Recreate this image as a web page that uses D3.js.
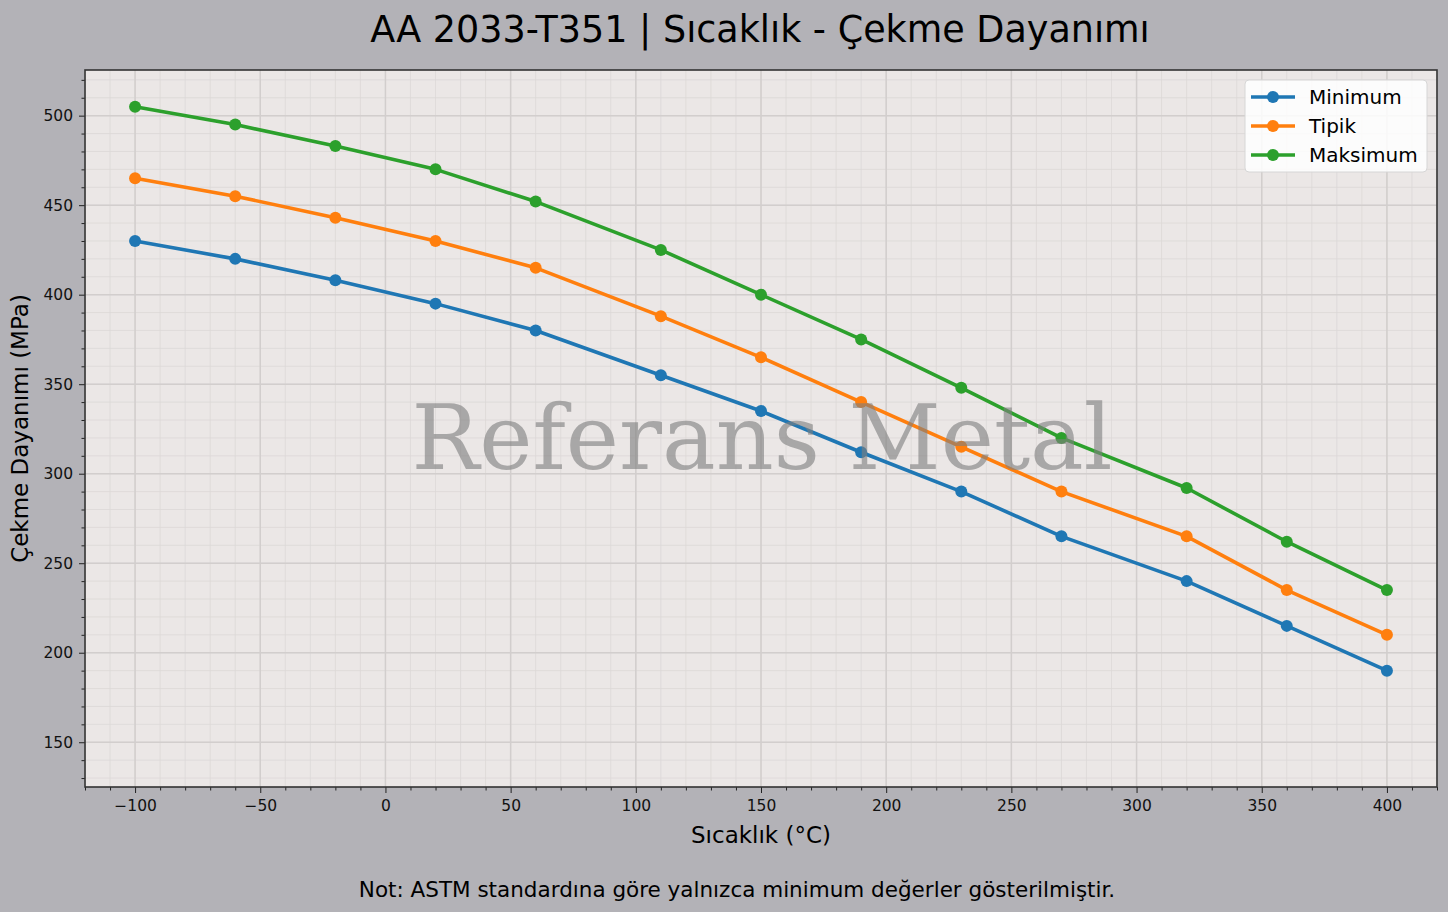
<!DOCTYPE html>
<html>
<head>
<meta charset="utf-8">
<script src="https://cdn.jsdelivr.net/npm/d3@7"></script>
<style>
  body { margin: 0; background: #b3b2b7; }
  svg { display: block; font-family: "DejaVu Sans", sans-serif; }
</style>
</head>
<body>
<svg id="chart" width="1448" height="912"></svg>
<script>
// sıcaklık noktaları (°C)
const temps = [-100, -60, -20, 20, 60, 110, 150, 190, 230, 270, 320, 360, 400]
const minimum = [430, 420, 408, 395, 380, 355, 335, 312, 290, 265, 240, 215, 190]
const tipik = [465, 455, 443, 430, 415, 388, 365, 340, 315, 290, 265, 235, 210]
const maksimum = [505, 495, 483, 470, 452, 425, 400, 375, 348, 320, 292, 262, 235]
const seriesNames = ['Minimum', 'Tipik', 'Maksimum']
const xTicks = [-100, -50, 0, 50, 100, 150, 200, 250, 300, 350, 400]
const yTicks = [150, 200, 250, 300, 350, 400, 450, 500]

const colors = ['#1f77b4', '#ff7f0e', '#2ca02c']
const series = [minimum, tipik, maksimum]

const W = 1448, H = 912
const margin = { left: 85, right: 11, top: 70, bottom: 125 }
const pw = W - margin.left - margin.right
const ph = H - margin.top - margin.bottom

const svg = d3.select('#chart')

svg.append('text')
  .attr('x', 760).attr('y', 42)
  .attr('text-anchor', 'middle')
  .style('font-size', '36.5px')
  .text('AA 2033-T351 | Sıcaklık - Çekme Dayanımı')

const g = svg.append('g').attr('transform', `translate(${margin.left},${margin.top})`)

const x = d3.scaleLinear().domain([-120, 420]).range([0, pw])
const y = d3.scaleLinear().domain([125, 525.5]).range([ph, 0])

g.append('rect').attr('width', pw).attr('height', ph).attr('fill', '#ebe7e6')

// minor grid
const xMinor = d3.range(-120, 421, 10)
const yMinor = d3.range(130, 526, 10)
g.append('g').selectAll('line').data(xMinor).enter().append('line')
  .attr('x1', d => x(d)).attr('x2', d => x(d)).attr('y1', 0).attr('y2', ph)
  .attr('stroke', '#dcd8d7').attr('stroke-width', 0.8)
g.append('g').selectAll('line').data(yMinor).enter().append('line')
  .attr('y1', d => y(d)).attr('y2', d => y(d)).attr('x1', 0).attr('x2', pw)
  .attr('stroke', '#dcd8d7').attr('stroke-width', 0.8)

// major grid
g.append('g').selectAll('line').data(xTicks).enter().append('line')
  .attr('x1', d => x(d)).attr('x2', d => x(d)).attr('y1', 0).attr('y2', ph)
  .attr('stroke', '#d2cecd').attr('stroke-width', 1.5)
g.append('g').selectAll('line').data(yTicks).enter().append('line')
  .attr('y1', d => y(d)).attr('y2', d => y(d)).attr('x1', 0).attr('x2', pw)
  .attr('stroke', '#d2cecd').attr('stroke-width', 1.5)

// axes
const xAxis = g.append('g').attr('transform', `translate(0,${ph})`)
  .call(d3.axisBottom(x).tickValues(xTicks).tickSize(6).tickPadding(5)
    .tickFormat(d => d < 0 ? '\u2212' + Math.abs(d) : d))
const xAxisMinor = g.append('g').attr('transform', `translate(0,${ph})`)
  .call(d3.axisBottom(x).tickValues(xMinor.filter(d => d % 50 !== 0)).tickSize(3.5).tickFormat(''))
const yAxis = g.append('g')
  .call(d3.axisLeft(y).tickValues(yTicks).tickSize(6).tickPadding(6))
const yAxisMinor = g.append('g')
  .call(d3.axisLeft(y).tickValues(yMinor.filter(d => d % 50 !== 0)).tickSize(3.5).tickFormat(''))

;[xAxis, xAxisMinor, yAxis, yAxisMinor].forEach(a => {
  a.select('.domain').remove()
  a.selectAll('line').attr('stroke', '#222').attr('stroke-width', 1)
  a.selectAll('text').style('font-size', '15.5px').attr('fill', '#111')
    .style('font-family', '"DejaVu Sans", sans-serif')
})
xAxis.selectAll('text').attr('dy', '0.85em')

// lines
const line = d3.line().x((d, i) => x(temps[i])).y(d => y(d))
series.forEach((s, k) => {
  g.append('path').datum(s).attr('d', line)
    .attr('fill', 'none').attr('stroke', colors[k]).attr('stroke-width', 3.6)
    .attr('stroke-linejoin', 'round')
  g.append('g').selectAll('circle').data(s).enter().append('circle')
    .attr('cx', (d, i) => x(temps[i])).attr('cy', d => y(d)).attr('r', 6)
    .attr('fill', colors[k])
})

// watermark
g.append('text')
  .attr('x', pw / 2 + 1).attr('y', ph / 2 + 40)
  .attr('text-anchor', 'middle')
  .style('font-family', '"DejaVu Serif", serif')
  .style('font-size', '90px')
  .attr('fill', '#808080').attr('fill-opacity', 0.62)
  .text('Referans Metal')

// frame
g.append('rect').attr('width', pw).attr('height', ph)
  .attr('fill', 'none').attr('stroke', '#333').attr('stroke-width', 1.6)

// legend
const lg = g.append('g').attr('transform', `translate(${pw - 192},10)`)
lg.append('rect').attr('width', 182).attr('height', 92).attr('rx', 4)
  .attr('fill', '#fff').attr('fill-opacity', 0.85).attr('stroke', '#d6d6d6')
seriesNames.forEach((n, k) => {
  const ly = 17 + k * 29
  lg.append('line').attr('x1', 6).attr('x2', 50).attr('y1', ly).attr('y2', ly)
    .attr('stroke', colors[k]).attr('stroke-width', 3.6)
  lg.append('circle').attr('cx', 28).attr('cy', ly).attr('r', 6).attr('fill', colors[k])
  lg.append('text').attr('x', 64).attr('y', ly).attr('dy', '0.35em')
    .style('font-size', '20px').text(n)
})

// axis labels
svg.append('text')
  .attr('x', margin.left + pw / 2).attr('y', 843)
  .attr('text-anchor', 'middle').style('font-size', '23px')
  .text('Sıcaklık (°C)')
svg.append('text')
  .attr('transform', `translate(28,${margin.top + ph / 2}) rotate(-90)`)
  .attr('text-anchor', 'middle').style('font-size', '23px')
  .text('Çekme Dayanımı (MPa)')

svg.append('text')
  .attr('x', 737).attr('y', 897)
  .attr('text-anchor', 'middle').style('font-size', '21.5px')
  .text('Not: ASTM standardına göre yalnızca minimum değerler gösterilmiştir.')
</script>
</body>
</html>
